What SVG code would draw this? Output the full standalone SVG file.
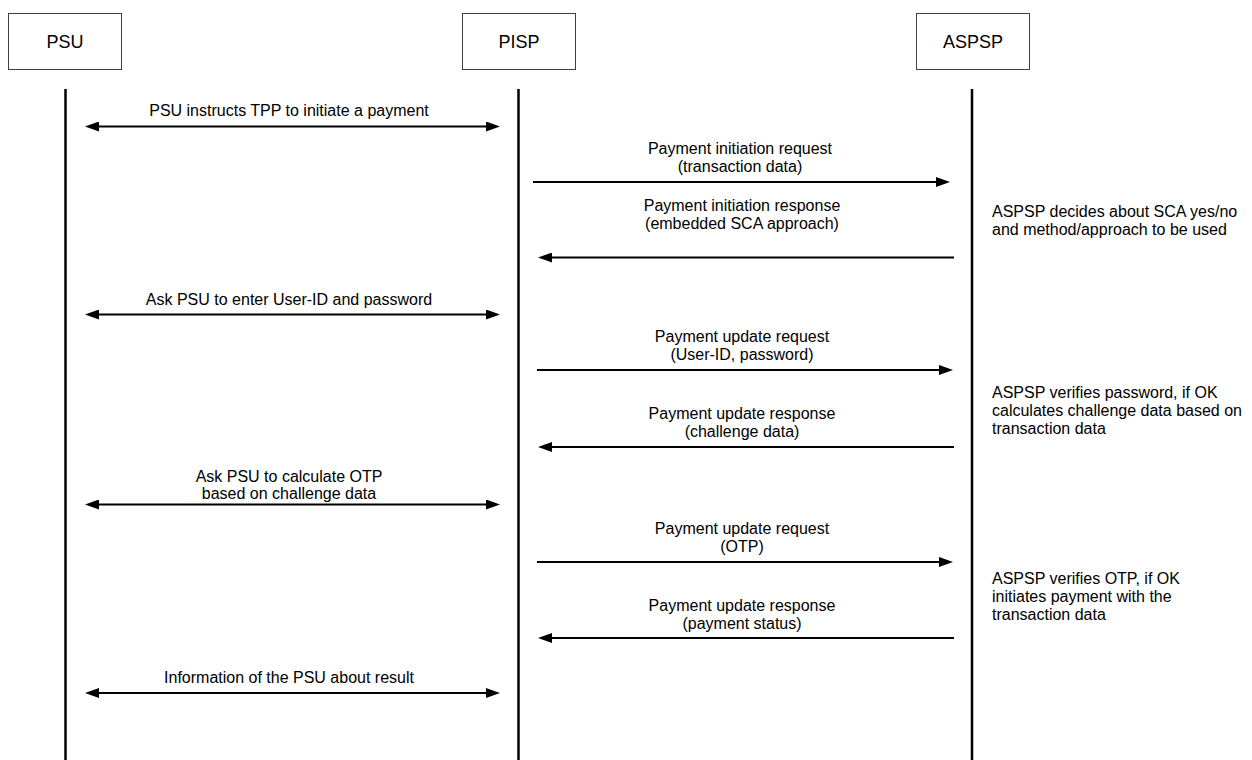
<svg xmlns="http://www.w3.org/2000/svg" width="1252" height="760" viewBox="0 0 1252 760">
<style>
.box{fill:#fff;stroke:#404040;stroke-width:1}
.life{stroke:#000;stroke-width:2.5}
.msg{stroke:#000;stroke-width:2;fill:none}
.t{font-family:"Liberation Sans",Arial,sans-serif;font-size:16px;fill:#000}
.c{text-anchor:middle}
.h{font-family:"Liberation Sans",Arial,sans-serif;font-size:18px;fill:#000;text-anchor:middle}
</style>
<defs>
<marker id="ah" viewBox="0 0 14 10" markerWidth="14" markerHeight="10" markerUnits="userSpaceOnUse" refX="0" refY="5" orient="auto-start-reverse">
<path d="M0,0 L14,5 L0,10 z" fill="#000"/>
</marker>
</defs>
<rect width="1252" height="760" fill="#fff"/>
<g id="psu">
<rect class="box" x="8.5" y="13.5" width="113" height="56"/>
<text class="h" x="65" y="48">PSU</text>
<line class="life" x1="65.5" y1="89" x2="65.5" y2="760"/>
</g>
<g id="pisp">
<rect class="box" x="462.5" y="13.5" width="113" height="56"/>
<text class="h" x="519" y="48">PISP</text>
<line class="life" x1="518.5" y1="89" x2="518.5" y2="760"/>
</g>
<g id="aspsp">
<rect class="box" x="916.5" y="13.5" width="113" height="56"/>
<text class="h" x="973" y="48">ASPSP</text>
<line class="life" x1="972" y1="89" x2="972" y2="760"/>
</g>
<g id="notes" class="t">
<text x="992" y="217">ASPSP decides about SCA yes/no</text>
<text x="992" y="235">and method/approach to be used</text>
<text x="992" y="398">ASPSP verifies password, if OK</text>
<text x="992" y="416">calculates challenge data based on</text>
<text x="992" y="434">transaction data</text>
<text x="992" y="584">ASPSP verifies OTP, if OK</text>
<text x="992" y="602">initiates payment with the</text>
<text x="992" y="620">transaction data</text>
</g>
<g id="connectors">
<line class="msg" x1="99" y1="126.5" x2="486" y2="126.5" marker-start="url(#ah)" marker-end="url(#ah)"/>
<line class="msg" x1="533" y1="182" x2="936" y2="182" marker-end="url(#ah)"/>
<line class="msg" x1="954" y1="257.5" x2="552" y2="257.5" marker-end="url(#ah)"/>
<line class="msg" x1="99" y1="314.5" x2="486" y2="314.5" marker-start="url(#ah)" marker-end="url(#ah)"/>
<line class="msg" x1="537" y1="370" x2="939" y2="370" marker-end="url(#ah)"/>
<line class="msg" x1="954" y1="447" x2="552" y2="447" marker-end="url(#ah)"/>
<line class="msg" x1="99" y1="504.5" x2="486" y2="504.5" marker-start="url(#ah)" marker-end="url(#ah)"/>
<line class="msg" x1="537" y1="562" x2="939" y2="562" marker-end="url(#ah)"/>
<line class="msg" x1="954" y1="638" x2="552" y2="638" marker-end="url(#ah)"/>
<line class="msg" x1="99" y1="693" x2="486" y2="693" marker-start="url(#ah)" marker-end="url(#ah)"/>
</g>
<g id="labels" class="t c">
<text x="289" y="116">PSU instructs TPP to initiate a payment</text>
<text x="740" y="154">Payment initiation request</text>
<text x="740" y="172">(transaction data)</text>
<text x="742" y="211">Payment initiation response</text>
<text x="742" y="229">(embedded SCA approach)</text>
<text x="289" y="305">Ask PSU to enter User-ID and password</text>
<text x="742" y="342">Payment update request</text>
<text x="742" y="360">(User-ID, password)</text>
<text x="742" y="419">Payment update response</text>
<text x="742" y="437">(challenge data)</text>
<text x="289" y="482">Ask PSU to calculate OTP</text>
<text x="289" y="499">based on challenge data</text>
<text x="742" y="534">Payment update request</text>
<text x="742" y="552">(OTP)</text>
<text x="742" y="611">Payment update response</text>
<text x="742" y="629">(payment status)</text>
<text x="289" y="683">Information of the PSU about result</text>
</g>
</svg>
